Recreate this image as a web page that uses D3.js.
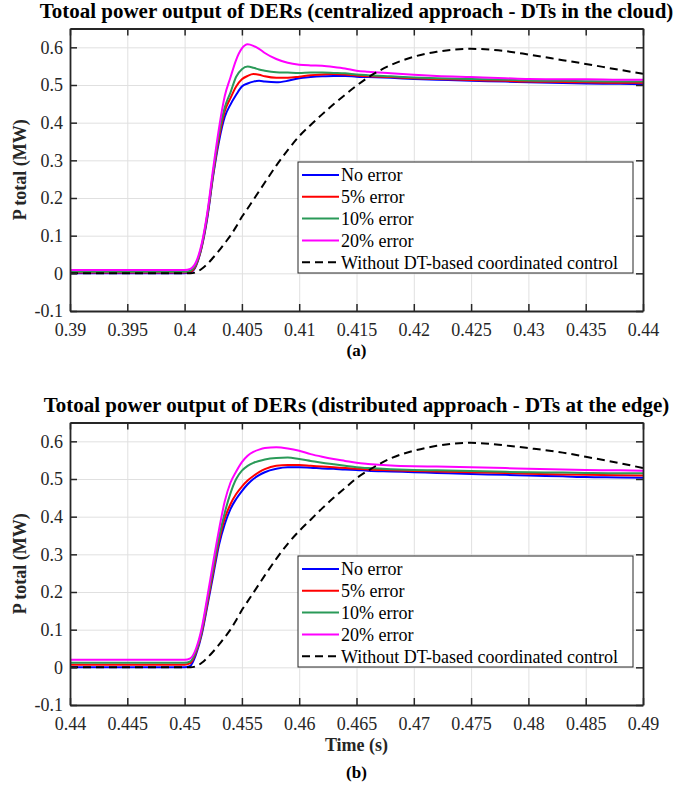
<!DOCTYPE html>
<html>
<head>
<meta charset="utf-8">
<script src="https://cdn.jsdelivr.net/npm/d3@7"></script>
<style>
  body { margin: 0; background: #fff; }
  svg, svg text { font-family: "Liberation Serif", "Times New Roman", Times, "DejaVu Serif", "Noto Serif", serif; }
</style>
</head>
<body>
<svg id="chart" width="676" height="785"></svg>
<script>
// ---- data ----
const seriesNames = ["No error", "5% error", "10% error", "20% error", "Without DT-based coordinated control"];
const seriesColors = ["#0000ff", "#ff0000", "#2a9a58", "#ff00ff", "#000000"];
const yTicks = [-0.1, 0, 0.1, 0.2, 0.3, 0.4, 0.5, 0.6];

// (a) centralized approach
const xTicksA = [0.39, 0.395, 0.4, 0.405, 0.41, 0.415, 0.42, 0.425, 0.43, 0.435, 0.44];
const timeA = [0.39, 0.4, 0.4005, 0.401, 0.4015, 0.402, 0.4025, 0.403, 0.4035, 0.404, 0.4045, 0.405, 0.4055, 0.406, 0.4065, 0.407, 0.408, 0.409, 0.41, 0.411, 0.412, 0.413, 0.414, 0.415, 0.416, 0.418, 0.42, 0.422, 0.425, 0.428, 0.43, 0.433, 0.435, 0.438, 0.44];
const noErrorA = [0, 0, 0.002, 0.02, 0.07, 0.15, 0.26, 0.35, 0.415, 0.448, 0.474, 0.496, 0.504, 0.509, 0.511, 0.509, 0.507, 0.511, 0.518, 0.521, 0.523, 0.524, 0.524, 0.522, 0.521, 0.519, 0.516, 0.514, 0.511, 0.509, 0.507, 0.505, 0.504, 0.503, 0.502];
const err5A = [0.002, 0.002, 0.004, 0.022, 0.072, 0.155, 0.265, 0.36, 0.43, 0.465, 0.496, 0.515, 0.524, 0.529, 0.527, 0.523, 0.519, 0.519, 0.522, 0.526, 0.528, 0.529, 0.528, 0.525, 0.523, 0.521, 0.518, 0.516, 0.513, 0.511, 0.509, 0.508, 0.507, 0.506, 0.506];
const err10A = [0.004, 0.004, 0.007, 0.025, 0.075, 0.16, 0.27, 0.37, 0.44, 0.48, 0.522, 0.542, 0.549, 0.546, 0.541, 0.538, 0.534, 0.533, 0.532, 0.533, 0.533, 0.532, 0.531, 0.528, 0.526, 0.523, 0.52, 0.518, 0.516, 0.514, 0.512, 0.511, 0.51, 0.509, 0.509];
const err20A = [0.009, 0.009, 0.012, 0.03, 0.08, 0.165, 0.28, 0.385, 0.47, 0.52, 0.567, 0.597, 0.608, 0.604, 0.596, 0.585, 0.569, 0.559, 0.554, 0.552, 0.551, 0.548, 0.544, 0.538, 0.535, 0.531, 0.527, 0.524, 0.521, 0.518, 0.516, 0.515, 0.515, 0.514, 0.514];
const noDtA = [0, 0, 0, 0.003, 0.012, 0.025, 0.042, 0.06, 0.08, 0.1, 0.124, 0.15, 0.172, 0.195, 0.218, 0.241, 0.286, 0.327, 0.364, 0.394, 0.422, 0.449, 0.474, 0.498, 0.52, 0.553, 0.575, 0.588, 0.596, 0.59, 0.581, 0.566, 0.556, 0.54, 0.53];

// (b) distributed approach
const xTicksB = [0.44, 0.445, 0.45, 0.455, 0.46, 0.465, 0.47, 0.475, 0.48, 0.485, 0.49];
const timeB = [0.44, 0.45, 0.4505, 0.451, 0.4515, 0.452, 0.4525, 0.453, 0.4535, 0.454, 0.4545, 0.455, 0.4555, 0.456, 0.4565, 0.457, 0.458, 0.459, 0.46, 0.461, 0.462, 0.463, 0.464, 0.465, 0.466, 0.468, 0.47, 0.472, 0.475, 0.478, 0.48, 0.483, 0.485, 0.488, 0.49];
const noErrorB = [0, 0, 0.004, 0.035, 0.088, 0.165, 0.245, 0.325, 0.38, 0.42, 0.447, 0.468, 0.486, 0.5, 0.51, 0.518, 0.527, 0.531, 0.531, 0.53, 0.528, 0.527, 0.525, 0.524, 0.522, 0.52, 0.518, 0.516, 0.513, 0.511, 0.509, 0.507, 0.505, 0.504, 0.503];
const err5B = [0.007, 0.007, 0.011, 0.04, 0.093, 0.172, 0.255, 0.335, 0.395, 0.433, 0.46, 0.48, 0.496, 0.508, 0.518, 0.526, 0.535, 0.537, 0.537, 0.535, 0.533, 0.531, 0.529, 0.527, 0.525, 0.523, 0.521, 0.52, 0.518, 0.516, 0.514, 0.512, 0.511, 0.51, 0.509];
const err10B = [0.012, 0.012, 0.016, 0.044, 0.098, 0.18, 0.265, 0.345, 0.41, 0.462, 0.5, 0.522, 0.535, 0.543, 0.548, 0.552, 0.556, 0.557, 0.553, 0.548, 0.543, 0.539, 0.535, 0.531, 0.529, 0.526, 0.524, 0.523, 0.521, 0.519, 0.518, 0.517, 0.516, 0.515, 0.515];
const err20B = [0.02, 0.02, 0.024, 0.05, 0.105, 0.19, 0.28, 0.365, 0.44, 0.49, 0.52, 0.545, 0.562, 0.572, 0.578, 0.582, 0.584, 0.581, 0.575, 0.566, 0.559, 0.553, 0.548, 0.543, 0.54, 0.536, 0.534, 0.533, 0.531, 0.529, 0.527, 0.525, 0.524, 0.523, 0.522];
const noDtB = [0, 0, 0, 0.003, 0.012, 0.026, 0.042, 0.06, 0.08, 0.1, 0.125, 0.152, 0.175, 0.198, 0.221, 0.244, 0.288, 0.328, 0.362, 0.392, 0.422, 0.45, 0.476, 0.502, 0.522, 0.555, 0.575, 0.588, 0.596, 0.589, 0.582, 0.57, 0.559, 0.542, 0.529];

// ---- layout ----
const svg = d3.select("#chart");
const left = 70, right = 643;
const axisColor = "#262626";
const serif = '"Liberation Serif", "Times New Roman", Times, "DejaVu Serif", "Noto Serif", serif';
let titleSize = null;

const panels = [
  { title: "Totoal power output of DERs (centralized approach - DTs in the cloud)", tag: "(a)",
    top: 28.5, bottom: 311, xTicks: xTicksA, time: timeA,
    series: [noErrorA, err5A, err10A, err20A, noDtA], legendTop: 162, xLabel: null, tagY: 356 },
  { title: "Totoal power output of DERs (distributed approach - DTs at the edge)", tag: "(b)",
    top: 422.5, bottom: 705, xTicks: xTicksB, time: timeB,
    series: [noErrorB, err5B, err10B, err20B, noDtB], legendTop: 556, xLabel: "Time (s)", tagY: 778 }
];

panels.forEach((p, pi) => {
  const g = svg.append("g").attr("font-family", serif);
  const x = d3.scaleLinear().domain([p.xTicks[0], p.xTicks[p.xTicks.length - 1]]).range([left, right]);
  const y = d3.scaleLinear().domain([-0.1, 0.65]).range([p.bottom, p.top]);

  // grid
  g.append("g")
    .attr("transform", `translate(0,${p.bottom})`)
    .call(d3.axisBottom(x).tickValues(p.xTicks).tickSize(-(p.bottom - p.top)).tickFormat(""))
    .call(a => a.select(".domain").remove())
    .selectAll("line").attr("stroke", "#e0e0e0");
  g.append("g")
    .attr("transform", `translate(${left},0)`)
    .call(d3.axisLeft(y).tickValues(yTicks).tickSize(-(right - left)).tickFormat(""))
    .call(a => a.select(".domain").remove())
    .selectAll("line").attr("stroke", "#e0e0e0");

  // clip
  const clipId = "clip" + pi;
  g.append("clipPath").attr("id", clipId)
    .append("rect").attr("x", left).attr("y", p.top).attr("width", right - left).attr("height", p.bottom - p.top);

  const line = d3.line()
    .x((d, i) => x(p.time[i]))
    .y(d => y(d))
    .curve(d3.curveMonotoneX);

  g.append("g").attr("clip-path", `url(#${clipId})`)
    .selectAll("path")
    .data(p.series)
    .join("path")
    .attr("d", line)
    .attr("fill", "none")
    .attr("stroke", (d, i) => seriesColors[i])
    .attr("stroke-width", 2)
    .attr("stroke-dasharray", (d, i) => i === 4 ? "8,5" : null);

  // axes (ticks inward, box on)
  const styleAxis = a => {
    a.attr("font-family", serif).attr("font-size", 18);
    a.select(".domain").attr("stroke", axisColor).attr("stroke-width", 1.8);
    a.selectAll(".tick line").attr("stroke", axisColor).attr("stroke-width", 1.5);
    a.selectAll(".tick text").attr("fill", axisColor);
  };
  g.append("g")
    .attr("transform", `translate(0,${p.bottom})`)
    .call(d3.axisBottom(x).tickValues(p.xTicks).tickSizeInner(-7).tickSizeOuter(0).tickPadding(12).tickFormat(d => String(d)))
    .call(styleAxis);
  g.append("g")
    .attr("transform", `translate(0,${p.top})`)
    .call(d3.axisTop(x).tickValues(p.xTicks).tickSizeInner(-7).tickSizeOuter(0).tickFormat(""))
    .call(styleAxis);
  g.append("g")
    .attr("transform", `translate(${left},0)`)
    .call(d3.axisLeft(y).tickValues(yTicks).tickSizeInner(-7).tickSizeOuter(0).tickPadding(7).tickFormat(d => String(d)))
    .call(styleAxis);
  g.append("g")
    .attr("transform", `translate(${right},0)`)
    .call(d3.axisRight(y).tickValues(yTicks).tickSizeInner(-7).tickSizeOuter(0).tickFormat(""))
    .call(styleAxis);

  // title: first one sized to span the figure width, second uses the same size
  const title = g.append("text")
    .attr("x", (left + right) / 2)
    .attr("y", p.top - 11)
    .attr("text-anchor", "middle")
    .attr("font-weight", "bold")
    .attr("font-size", 20)
    .text(p.title);
  if (titleSize === null) {
    const tw = title.node().getComputedTextLength();
    titleSize = tw > 0 ? Math.min(22, 20 * 634 / tw) : 20;
  }
  title.attr("font-size", titleSize);

  // y label
  g.append("text")
    .attr("transform", `translate(26,${(p.top + p.bottom) / 2}) rotate(-90)`)
    .attr("text-anchor", "middle")
    .attr("font-weight", "bold")
    .attr("font-size", 18)
    .attr("fill", axisColor)
    .text("P total (MW)");

  if (p.xLabel) {
    g.append("text")
      .attr("x", (left + right) / 2)
      .attr("y", p.bottom + 46)
      .attr("text-anchor", "middle")
      .attr("font-weight", "bold")
      .attr("font-size", 18)
      .attr("fill", axisColor)
      .text(p.xLabel);
  }

  g.append("text")
    .attr("x", (left + right) / 2)
    .attr("y", p.tagY)
    .attr("text-anchor", "middle")
    .attr("font-weight", "bold")
    .attr("font-size", 17)
    .text(p.tag);

  // legend
  const lg = g.append("g").attr("transform", `translate(298,${p.legendTop})`);
  lg.append("rect")
    .attr("width", 335).attr("height", 111)
    .attr("fill", "#fff").attr("stroke", axisColor).attr("stroke-width", 1);
  const rows = lg.selectAll("g.row")
    .data(seriesNames)
    .join("g")
    .attr("class", "row")
    .attr("transform", (d, i) => `translate(0,${13 + i * 21.8})`);
  rows.append("line")
    .attr("x1", 4).attr("x2", 41)
    .attr("stroke", (d, i) => seriesColors[i])
    .attr("stroke-width", 2)
    .attr("stroke-dasharray", (d, i) => i === 4 ? "8,5" : null);
  rows.append("text")
    .attr("x", 43)
    .attr("dy", "0.35em")
    .attr("font-size", 18)
    .text(d => d);
});
</script>
</body>
</html>
